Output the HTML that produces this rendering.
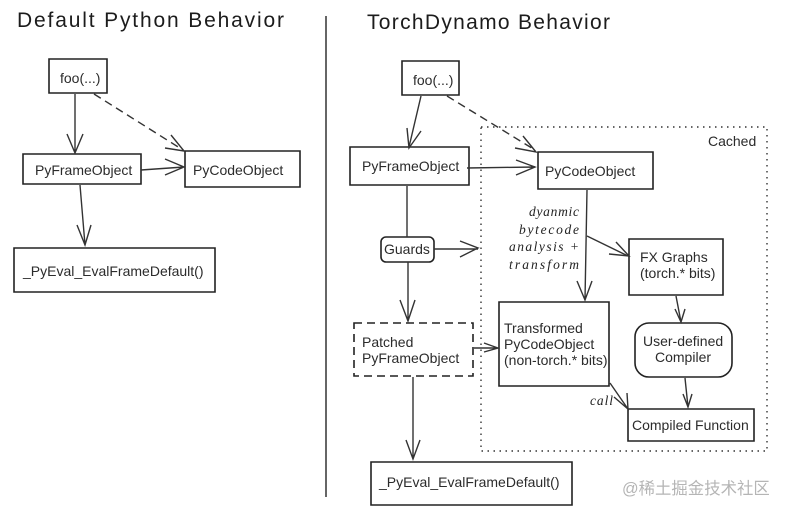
<!DOCTYPE html>
<html><head><meta charset="utf-8"><style>
html,body{margin:0;padding:0;background:#fff}
svg{display:block;filter:blur(0.35px)}
.b{fill:none;stroke:#222;stroke-width:1.6}
.l{fill:none;stroke:#333;stroke-width:1.4}
.t{font-family:"Liberation Sans",sans-serif;font-size:14px;fill:#2b2b2b}
.h{font-family:"Liberation Sans",sans-serif;font-size:21px;fill:#1c1c1c}
.s{font-family:"Liberation Serif",serif;font-style:italic;font-size:13.5px;fill:#222}
</style></head><body>
<svg width="785" height="513" viewBox="0 0 785 513" xmlns="http://www.w3.org/2000/svg">
<rect width="785" height="513" fill="#fff"/>
<text class="h" x="17" y="27" textLength="267" lengthAdjust="spacing">Default Python Behavior</text>
<text class="h" x="367" y="29" textLength="243" lengthAdjust="spacing">TorchDynamo Behavior</text>
<path d="M326 16V497" stroke="#555" stroke-width="1.8" fill="none"/>

<!-- left boxes -->
<path class="b" d="M49 59H107V93H49Z"/>
<path class="b" d="M23 154H141V184H23Z"/>
<path class="b" d="M185 151H300V187H185Z"/>
<path class="b" d="M14 248H215V292H14Z"/>
<text class="t" x="60" y="83">foo(...)</text>
<text class="t" x="35" y="175">PyFrameObject</text>
<text class="t" x="193" y="175">PyCodeObject</text>
<text class="t" x="23" y="276">_PyEval_EvalFrameDefault()</text>

<!-- left arrows -->
<path class="l" d="M75 94V153M67 134L75 153L83 134"/>
<path class="l" stroke-dasharray="8 5" d="M94 94L183 150"/>
<path class="l" d="M165 148L184 151L171 135"/>
<path class="l" d="M141 170L184 167M165 159L184 167L165 175"/>
<path class="l" d="M80 185L85 245M77 225L85 245L91 225"/>

<!-- right boxes -->
<path d="M481 127H767V451H481Z" fill="none" stroke="#333" stroke-width="1.4" stroke-dasharray="1.5 4.5"/>
<path class="b" d="M402 61H459V95H402Z"/>
<path class="b" d="M350 147H469V185H350Z"/>
<path class="b" d="M538 152H653V189H538Z"/>
<rect class="b" x="381" y="237" width="53" height="25" rx="5"/>
<path class="b" d="M629 239H723V295H629Z"/>
<path class="b" d="M499 302H609V386H499Z"/>
<rect class="b" x="635" y="323" width="97" height="54" rx="14"/>
<path class="b" d="M628 409H754V441H628Z"/>
<path class="b" stroke-dasharray="8 5" d="M354 323H473V376H354Z"/>
<path class="b" d="M371 462H572V505H371Z"/>

<text class="t" x="413" y="85">foo(...)</text>
<text class="t" x="362" y="171">PyFrameObject</text>
<text class="t" x="545" y="176">PyCodeObject</text>
<text class="t" x="384" y="254">Guards</text>
<text class="t" x="708" y="146">Cached</text>
<text class="t" x="640" y="262">FX Graphs</text>
<text class="t" x="640" y="278">(torch.* bits)</text>
<text class="t" x="504" y="333">Transformed</text>
<text class="t" x="504" y="349">PyCodeObject</text>
<text class="t" x="504" y="365">(non-torch.* bits)</text>
<text class="t" x="643" y="346">User-defined</text>
<text class="t" x="655" y="362">Compiler</text>
<text class="t" x="632" y="430">Compiled Function</text>
<text class="t" x="362" y="347">Patched</text>
<text class="t" x="362" y="363">PyFrameObject</text>
<text class="t" x="379" y="487">_PyEval_EvalFrameDefault()</text>
<text class="s" x="529" y="216" textLength="50">dyanmic</text>
<text class="s" x="519" y="234" textLength="60">bytecode</text>
<text class="s" x="509" y="251" textLength="70">analysis +</text>
<text class="s" x="509" y="269" textLength="70">transform</text>
<text class="s" x="590" y="405" textLength="23">call</text>
<text x="622" y="494" font-family="Liberation Sans,Noto Sans CJK SC,sans-serif" font-size="16.4" fill="#b5b5b5">@稀土掘金技术社区</text>

<!-- right arrows -->
<path class="l" d="M421 96L409 147M407 128L409 148L421 131"/>
<path class="l" stroke-dasharray="8 5" d="M447 96L535 150"/>
<path class="l" d="M515 148L536 152L523 136"/>
<path class="l" d="M467 168L535 167M516 160L535 167L516 175"/>
<path class="l" d="M407 186V237M408 262V321M400 300L408 321L415 300"/>
<path class="l" d="M434 249H478M460 241L478 248L460 257"/>
<path class="l" d="M587 190L585 300M577 281L585 300L592 281"/>
<path class="l" stroke-width="2" d="M587 236L628 256"/>
<path class="l" d="M616 242L629 256L609 254"/>
<path class="l" d="M474 348H498M484 343L498 348L484 352"/>
<path class="l" d="M413 377V459M406 440L413 459L420 440"/>
<path class="l" d="M610 383L628 409M627 393L628 409L614 397"/>
<path class="l" d="M676 296L681 322M675 309L681 322L685 309"/>
<path class="l" d="M685 378L688 407M683 394L688 407L692 394"/>
</svg>
</body></html>
